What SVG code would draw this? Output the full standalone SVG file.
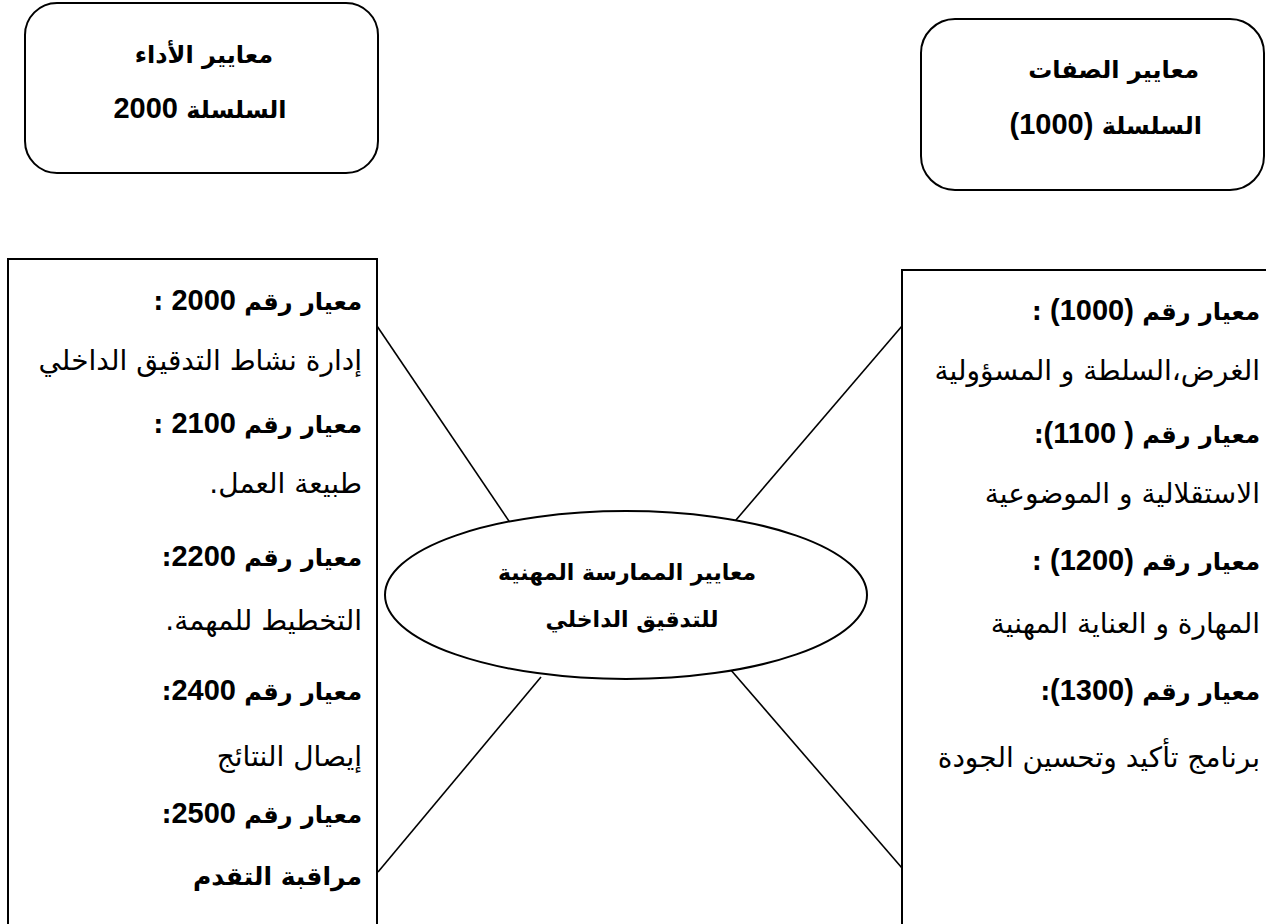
<svg xmlns="http://www.w3.org/2000/svg" width="1266" height="924" viewBox="0 0 1266 924">
  <style>
    .frame{fill:#fff;stroke:#000;stroke-width:2}
    .link{stroke:#000;stroke-width:1.6;fill:none}
    text{font-family:"DejaVu Sans","Noto Sans",sans-serif;font-size:28px;fill:#000;direction:rtl}
    .hd{font-weight:bold;font-size:24px}
    .num{font-family:"Liberation Sans",Arial,sans-serif;font-weight:bold;font-size:29px}
    .mid{text-anchor:middle}
    .rt{text-anchor:start}
  </style>

  <!-- connectors between the centre ellipse and the two lists -->
  <g id="connectors">
    <line class="link" x1="377" y1="326" x2="513" y2="527"/>
    <line class="link" x1="902" y1="326" x2="730" y2="527"/>
    <line class="link" x1="541" y1="677" x2="378" y2="872"/>
    <line class="link" x1="730" y1="669" x2="902" y2="868"/>
  </g>

  <!-- performance standards header -->
  <g id="perf-header">
    <rect class="frame" x="25" y="3" width="353" height="170" rx="32"/>
    <text class="hd mid" x="204" y="63">معايير الأداء</text>
    <text class="hd mid" x="200" y="118">السلسلة <tspan class="num">2000</tspan></text>
  </g>

  <!-- attribute standards header -->
  <g id="attr-header">
    <rect class="frame" x="921" y="19" width="343" height="171" rx="34"/>
    <text class="hd rt" x="1199" y="78">معايير الصفات</text>
    <text class="hd rt" x="1202" y="134">السلسلة <tspan class="num">(1000)</tspan></text>
  </g>

  <!-- performance standards list -->
  <g id="perf-list">
    <rect class="frame" x="8" y="259" width="369" height="680"/>
    <text class="hd rt" x="362" y="310">معيار رقم <tspan class="num">2000</tspan> :</text>
    <text class="rt" x="362" y="370">إدارة نشاط التدقيق الداخلي</text>
    <text class="hd rt" x="362" y="433">معيار رقم <tspan class="num">2100</tspan> :</text>
    <text class="rt" x="362" y="493">طبيعة العمل.</text>
    <text class="hd rt" x="362" y="566">معيار رقم <tspan class="num">2200</tspan>:</text>
    <text class="rt" x="362" y="630">التخطيط  للمهمة.</text>
    <text class="hd rt" x="362" y="700">معيار رقم <tspan class="num">2400</tspan>:</text>
    <text class="rt" x="362" y="766">إيصال النتائج</text>
    <text class="hd rt" x="362" y="823">معيار رقم  <tspan class="num">2500</tspan>:</text>
    <text class="hd rt" x="362" y="885" style="font-size:25px">مراقبة التقدم</text>
  </g>

  <!-- attribute standards list -->
  <g id="attr-list">
    <rect class="frame" x="902" y="270" width="380" height="670"/>
    <text class="hd rt" x="1260" y="320">معيار رقم <tspan class="num">(1000)</tspan> :</text>
    <text class="rt" x="1260" y="380">الغرض،السلطة و المسؤولية</text>
    <text class="hd rt" x="1260" y="443">معيار رقم <tspan class="num">( 1100)</tspan>:</text>
    <text class="rt" x="1260" y="503">الاستقلالية و الموضوعية</text>
    <text class="hd rt" x="1260" y="570">معيار رقم <tspan class="num">(1200)</tspan> :</text>
    <text class="rt" x="1260" y="633">المهارة و العناية المهنية</text>
    <text class="hd rt" x="1260" y="700">معيار رقم <tspan class="num">(1300)</tspan>:</text>
    <text class="rt" x="1260" y="767">برنامج تأكيد وتحسين الجودة</text>
  </g>

  <!-- central ellipse -->
  <g id="centre">
    <ellipse class="frame" cx="626" cy="595" rx="241" ry="84"/>
    <text class="hd mid" x="627" y="580" style="font-size:22px">معايير الممارسة المهنية</text>
    <text class="hd mid" x="632" y="627" style="font-size:22px">للتدقيق الداخلي</text>
  </g>
</svg>
